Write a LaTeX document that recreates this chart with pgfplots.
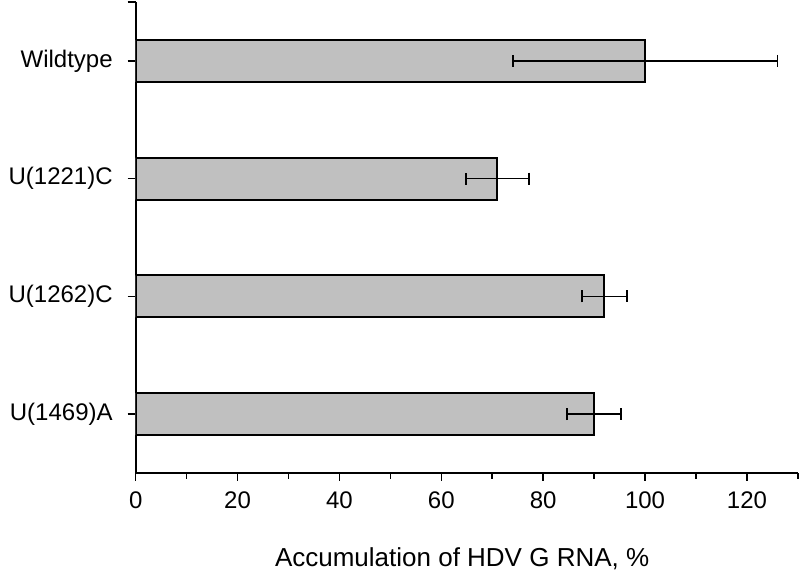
\documentclass[border=0pt]{standalone}
\usepackage{fontspec}
\setmainfont{Liberation Sans}
\usepackage{pgfplots}
\pgfplotsset{compat=1.18}
\definecolor{barGray}{RGB}{192,192,192}
\begin{document}
\begin{tikzpicture}
\begin{axis}[
  at={(67.85pt,49pt)}, anchor=south west,
  scale only axis, width=331.1pt, height=235.5pt,
  xbar, bar width=21pt,
  xmin=0, xmax=130, ymin=0.5, ymax=4.5,
  axis x line*=bottom, axis y line*=left,
  xtick={0,20,...,120}, minor xtick={10,30,...,130},
  ytick={1,2,3,4},
  yticklabels={U(1469)A,U(1262)C,U(1221)C,Wildtype\hspace{6pt}},
  extra y ticks={4.5}, extra y tick labels={},
  tick align=outside, major tick length=4pt, minor tick length=3pt,
  axis line style={line width=1pt},
  tick style={line width=0.8pt, black},
  tick label style={font=\fontsize{12}{14}\selectfont},
  yticklabel style={xshift=-4pt},
  xticklabel style={yshift=-2pt},
  /pgf/number format/assume math mode=true,
  xlabel={Accumulation of HDV G RNA, \%},
  xlabel style={font=\fontsize{13}{15}\selectfont, at={(axis description cs:0.493,0)}, anchor=base, yshift=-47pt},
]
\addplot[fill=barGray, draw=black, line width=1pt,
  error bars/.cd, x dir=both, x explicit,
  error bar style={line width=0.8pt, black},
  error mark options={rotate=90, mark size=3pt, line width=0.9pt, black}]
  coordinates {
    (90,1) +- (5.3,0)
    (92,2) +- (4.4,0)
    (71,3) +- (6.2,0)
    (100,4) +- (26,0)
  };
\end{axis}
\pgfresetboundingbox
\useasboundingbox (0,0) rectangle (400pt,285.5pt);
\end{tikzpicture}
\end{document}
